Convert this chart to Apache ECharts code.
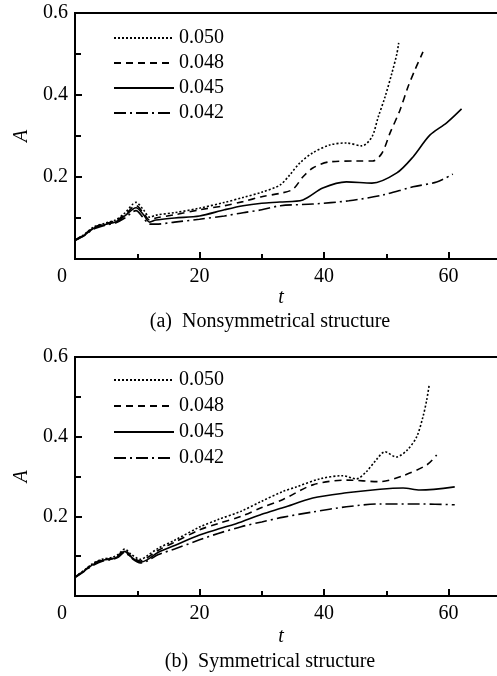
<!DOCTYPE html>
<html>
<head>
<meta charset="utf-8">
<script src="https://cdn.jsdelivr.net/npm/echarts@6/dist/echarts.min.js"></script>
<style>
  html, body { margin: 0; padding: 0; background: #fff; }
  #chart { width: 497px; height: 676px; }
</style>
</head>
<body>
<div id="chart"></div>
<script>
var myChart = echarts.init(document.getElementById('chart'));

// legend names (grid amplitude)
var names = ['0.050', '0.048', '0.045', '0.042'];

// (a) nonsymmetrical structure, [t, A]
var a050 = [[0,0.046],[1.5,0.06],[3,0.078],[5,0.088],[6.5,0.095],[8,0.112],[9.8,0.138],[11,0.12],[12,0.102],[13,0.107],[16,0.113],[20,0.124],[24,0.138],[27,0.15],[30,0.163],[32.9,0.18],[34.5,0.205],[36.1,0.234],[38.2,0.259],[40.9,0.278],[43.6,0.283],[46.1,0.276],[47.7,0.298],[48.7,0.346],[49.8,0.395],[50.9,0.453],[51.7,0.5],[52,0.527]];
var a048 = [[0,0.046],[1.5,0.06],[3,0.077],[5,0.087],[6.5,0.093],[8,0.108],[9.8,0.13],[11,0.112],[12,0.095],[13,0.1],[16,0.108],[20,0.12],[24,0.13],[27,0.14],[30,0.152],[32.9,0.16],[35,0.17],[36.6,0.2],[38.2,0.222],[40.9,0.237],[45.3,0.239],[47.8,0.239],[49.3,0.258],[50.6,0.307],[52.2,0.363],[53.5,0.42],[54.6,0.461],[55.9,0.505]];
var a045 = [[0,0.046],[1.5,0.058],[3,0.075],[5,0.085],[6.5,0.09],[8,0.105],[9.8,0.125],[11,0.108],[12,0.09],[13,0.095],[16,0.1],[20,0.105],[24,0.12],[27,0.13],[30,0.136],[32.9,0.139],[36.6,0.144],[39.8,0.173],[43.6,0.188],[47.7,0.185],[51.7,0.21],[54.3,0.249],[57,0.302],[59.7,0.332],[62.1,0.366]];
var a042 = [[0,0.045],[1.5,0.057],[3,0.073],[5,0.083],[6.5,0.088],[8,0.1],[9.8,0.118],[11,0.1],[12,0.085],[13,0.085],[16,0.09],[20,0.097],[24,0.105],[27,0.113],[30,0.12],[33,0.13],[38.2,0.134],[44,0.142],[49.4,0.156],[54.3,0.176],[58.1,0.188],[60.7,0.207]];

// (b) symmetrical structure, [t, A]
var b050 = [[0,0.048],[1.5,0.065],[3,0.083],[4.5,0.093],[6,0.097],[7,0.105],[8,0.118],[9,0.105],[10.5,0.092],[11.5,0.1],[13.4,0.12],[16,0.14],[20,0.173],[23,0.192],[26.7,0.213],[30,0.238],[33.5,0.263],[35.6,0.274],[39.3,0.294],[43,0.302],[45.2,0.294],[46.8,0.312],[48.4,0.342],[49.8,0.362],[51.6,0.349],[53.4,0.367],[54.9,0.4],[55.9,0.45],[56.5,0.492],[56.9,0.53]];
var b048 = [[0,0.048],[1.5,0.064],[3,0.082],[4.5,0.091],[6,0.095],[7,0.103],[8,0.115],[9,0.1],[10.5,0.088],[11.5,0.095],[13.4,0.115],[16,0.135],[20,0.166],[23,0.182],[26.7,0.2],[30,0.222],[33.5,0.243],[38.2,0.279],[43.6,0.291],[49,0.287],[52.7,0.302],[56.5,0.329],[58.1,0.354]];
var b045 = [[0,0.047],[1.5,0.063],[3,0.08],[4.5,0.09],[6,0.093],[7,0.1],[8,0.112],[9,0.098],[10.5,0.085],[11.5,0.09],[13.4,0.11],[16,0.127],[20,0.153],[23,0.168],[26.7,0.186],[30,0.205],[33.5,0.222],[38.2,0.246],[43.6,0.259],[49,0.268],[52.7,0.271],[55.4,0.266],[61,0.274]];
var b042 = [[0,0.046],[1.5,0.062],[3,0.078],[4.5,0.088],[6,0.092],[7,0.098],[8,0.11],[9,0.096],[10.5,0.083],[11.5,0.087],[13.4,0.104],[16,0.118],[20,0.141],[23,0.157],[26.7,0.174],[30,0.186],[33.5,0.198],[38.2,0.211],[43.6,0.224],[49,0.231],[55.4,0.231],[61,0.229]];

var panelA = [a050, a048, a045, a042];
var panelB = [b050, b048, b045, b042];

var font = 'Liberation Serif';
var dashes = [[2, 2], [7, 5], 'solid', [12, 4, 2, 4]];

function xAxisOf(i) {
    return {
        type: 'value', gridIndex: i, min: 0, max: 80, interval: 20,
        axisLine: {lineStyle: {color: '#000', width: 2}},
        axisTick: {inside: true, length: 7, lineStyle: {color: '#000', width: 2}},
        minorTick: {show: true, splitNumber: 2, length: 5, lineStyle: {color: '#000', width: 2}},
        splitLine: {show: false},
        axisLabel: {
            color: '#000', fontFamily: font, fontSize: 20, margin: 8,
            formatter: function (v) {
                if (v === 0) return '{z|0}';
                return v <= 60 ? String(v) : '';
            },
            rich: {z: {fontFamily: font, fontSize: 20, color: '#000', padding: [0, 26, 0, 0]}}
        }
    };
}

function yAxisOf(i) {
    return {
        type: 'value', gridIndex: i, min: 0, max: 0.6, interval: 0.2,
        name: 'A', nameLocation: 'middle', nameGap: 30, nameRotate: 90,
        nameTextStyle: {color: '#000', fontFamily: font, fontSize: 20, fontStyle: 'italic'},
        axisLine: {lineStyle: {color: '#000', width: 2}},
        axisTick: {inside: true, length: 7, lineStyle: {color: '#000', width: 2}},
        minorTick: {show: true, splitNumber: 2, length: 6, lineStyle: {color: '#000', width: 2}},
        splitLine: {show: false},
        axisLabel: {
            color: '#000', fontFamily: font, fontSize: 20, margin: 7,
            formatter: function (v) { return v === 0 ? '' : v.toFixed(1); }
        }
    };
}

var series = [];
[panelA, panelB].forEach(function (panel, g) {
    panel.forEach(function (d, k) {
        series.push({
            name: names[k], type: 'line', xAxisIndex: g, yAxisIndex: g,
            data: d, symbol: 'none', smooth: 0.3, silent: true,
            lineStyle: {color: '#000', width: 1.6, type: dashes[k]},
            itemStyle: {color: '#000'}
        });
    });
});

function legendOf(top, gap) {
    return {
        data: names, orient: 'vertical', left: 108, top: top,
        itemWidth: 60, itemHeight: 20, itemGap: gap, selectedMode: false,
        itemStyle: {opacity: 0, borderWidth: 0},
        textStyle: {color: '#000', fontFamily: font, fontSize: 20}
    };
}

var txt = {fill: '#000', fontFamily: font, fontSize: 20, align: 'center', verticalAlign: 'middle'};

var option = {
    backgroundColor: '#fff',
    animation: false,
    grid: [
        {left: 75, top: 13, height: 246, width: 498, outerBoundsMode: 'none', containLabel: false,
         show: true, borderColor: '#000', borderWidth: 2},
        {left: 75, top: 357, height: 239, width: 498, outerBoundsMode: 'none', containLabel: false,
         show: true, borderColor: '#000', borderWidth: 2}
    ],
    xAxis: [xAxisOf(0), xAxisOf(1)],
    yAxis: [yAxisOf(0), yAxisOf(1)],
    legend: [legendOf(23, 5), legendOf(365, 6)],
    graphic: [
        {type: 'text', x: 281, y: 298, style: Object.assign({}, txt, {text: 't', fontStyle: 'italic'})},
        {type: 'text', x: 270, y: 322, style: Object.assign({}, txt, {text: '(a)  Nonsymmetrical structure'})},
        {type: 'text', x: 281, y: 637, style: Object.assign({}, txt, {text: 't', fontStyle: 'italic'})},
        {type: 'text', x: 270, y: 662, style: Object.assign({}, txt, {text: '(b)  Symmetrical structure'})}
    ],
    series: series
};

myChart.setOption(option);
</script>
</body>
</html>
